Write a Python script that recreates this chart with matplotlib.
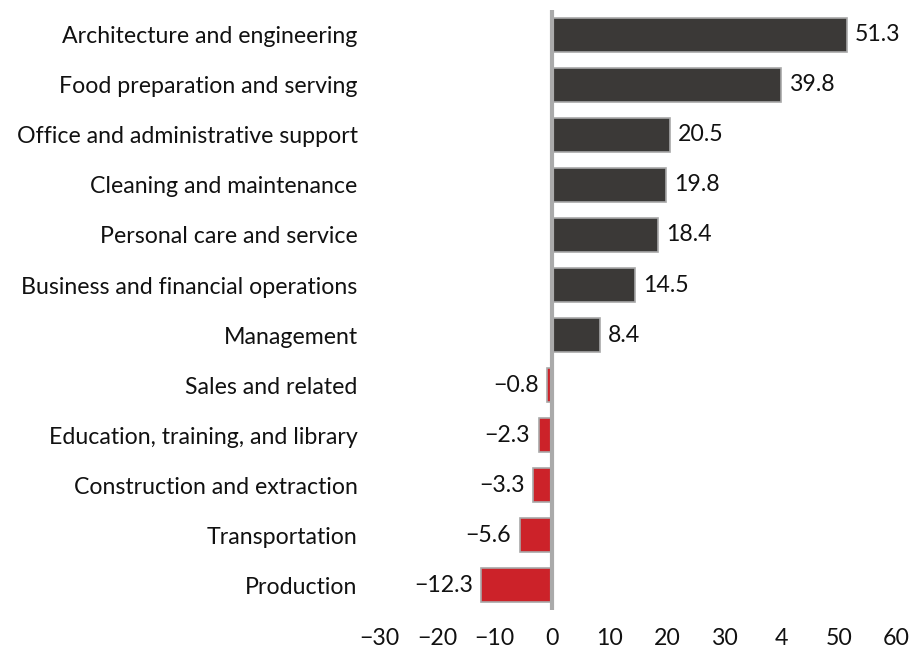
import matplotlib
matplotlib.use("Agg")
import matplotlib.pyplot as plt

categories = ["Architecture and engineering", "Food preparation and serving",
              "Office and administrative support", "Cleaning and maintenance",
              "Personal care and service", "Business and financial operations",
              "Management", "Sales and related", "Education, training, and library",
              "Construction and extraction", "Transportation", "Production"]
values = [51.3, 39.8, 20.5, 19.8, 18.4, 14.5, 8.4, -0.8, -2.3, -3.3, -5.6, -12.3]
xticks = [-30, -20, -10, 0, 10, 20, 30, 40, 50, 60]
xticklabels = ["\u221230", "\u221220", "\u221210", "0", "10", "20", "30", "4", "50", "60"]

plt.rcParams['font.family'] = ['Lato', 'DejaVu Sans']

fig = plt.figure(figsize=(9.13, 6.52), dpi=100)
ax = fig.add_axes([0.416, 0.064, 0.566, 0.921])

pos = list(range(len(categories)))
colors = ["#3b3937" if v > 0 else "#cc2229" for v in values]
ax.barh(pos, values, height=0.68, color=colors, edgecolor="#a8a8a8", linewidth=1.2, zorder=2)
ax.axvline(0, color="#aaaaaa", linewidth=3, zorder=3)

fs = 16.7
for p, v in zip(pos, values):
    lab = f"{v:.1f}".replace("-", "\u2212")
    if v >= 0:
        ax.text(v + 1.4, p, lab, va="center", ha="left", fontsize=fs, color="#111111")
    else:
        ax.text(v - 1.5, p, lab, va="center", ha="right", fontsize=fs, color="#111111")

ax.set_xlim(-30, 60)
ax.set_ylim(len(categories) - 0.5, -0.5)
ax.set_yticks(pos)
ax.set_yticklabels(categories, fontsize=fs, color="#111111")
ax.set_xticks(xticks)
ax.set_xticklabels(xticklabels, fontsize=fs, color="#111111")
ax.tick_params(axis="y", length=0, pad=16)
ax.tick_params(axis="x", length=0, pad=13)
for s in ax.spines.values():
    s.set_visible(False)

fig.savefig("out.png", dpi=100)
